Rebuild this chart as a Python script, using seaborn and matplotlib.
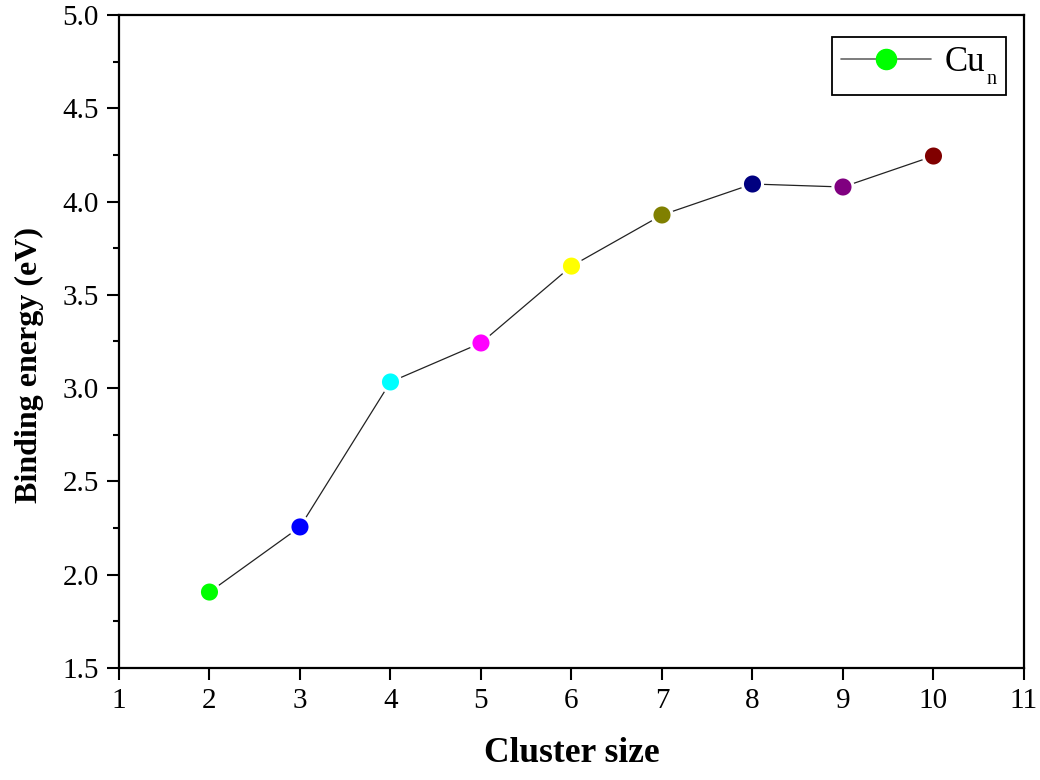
import matplotlib
matplotlib.use("Agg")
import matplotlib.pyplot as plt
import seaborn as sns
import pandas as pd
from matplotlib.lines import Line2D
from matplotlib.patches import Rectangle
from matplotlib.ticker import MultipleLocator, FormatStrFormatter

# Cu_n cluster binding energies
cluster_size = [2, 3, 4, 5, 6, 7, 8, 9, 10]
binding_energy = [1.907, 2.256, 3.033, 3.242, 3.654, 3.928, 4.094, 4.078, 4.244]
point_colors = ["#00FF00", "#0000FF", "#00FFFF", "#FF00FF", "#FFFF00",
                "#808000", "#000080", "#800080", "#800000"]
legend_main = "Cu"
legend_sub = "n"

sns.set_theme(style="ticks")
plt.rcParams["font.family"] = ["Liberation Serif", "DejaVu Serif"]
for key in ["text.color", "axes.labelcolor", "xtick.color", "ytick.color",
            "axes.edgecolor"]:
    plt.rcParams[key] = "black"

df = pd.DataFrame({"size": cluster_size, "energy": binding_energy,
                   "label": [str(s) for s in cluster_size]})

DPI = 100
fig = plt.figure(figsize=(10.4, 7.8), dpi=DPI)
ax = fig.add_axes([0.1144, 0.1436, 0.8702, 0.8372])

sns.lineplot(data=df, x="size", y="energy", ax=ax, color="#222222",
             linewidth=0.9, legend=False, zorder=2)
sns.scatterplot(data=df, x="size", y="energy", hue="label",
                palette=point_colors, s=210, edgecolor="white",
                linewidth=2.2, ax=ax, legend=False, zorder=3)

ax.set_xlim(1, 11)
ax.set_ylim(1.5, 5.0)
ax.xaxis.set_major_locator(MultipleLocator(1))
ax.yaxis.set_major_locator(MultipleLocator(0.5))
ax.yaxis.set_minor_locator(MultipleLocator(0.25))
ax.yaxis.set_major_formatter(FormatStrFormatter("%.1f"))

for side in ["left", "right", "top", "bottom"]:
    ax.spines[side].set_visible(True)
    ax.spines[side].set_linewidth(1.6)
    ax.spines[side].set_color("black")

ax.tick_params(axis="both", which="major", direction="out", length=8.5,
               width=1.5, labelsize=21, colors="black", pad=6)
ax.tick_params(axis="y", which="minor", direction="out", length=4.5, width=1.5)

ax.set_xlabel("Cluster size", fontsize=25.5, fontweight="bold", va="top")
ax.xaxis.set_label_coords(0.5, -0.106)
ax.set_ylabel("Binding energy (eV)", fontsize=23, fontweight="bold")
ax.yaxis.set_label_coords(-0.083, 0.464)

# Legend: "Cu" with a low, small subscript "n"; frame drawn around both
LEG_FS = 25
handle = Line2D([], [], color="#666666", linewidth=1.2, marker="o",
                markersize=14.5, markerfacecolor="#00FF00",
                markeredgecolor="#00FF00")
leg = ax.legend([handle], [legend_main], loc="upper left",
                bbox_to_anchor=(0.788, 0.966), fontsize=LEG_FS, frameon=False,
                handlelength=2.6, borderpad=0.25, handletextpad=0.4,
                borderaxespad=0)

fig.canvas.draw()
renderer = fig.canvas.get_renderer()
txt = leg.get_texts()[0]
bb = txt.get_window_extent(renderer)
_, _, descent = renderer.get_text_width_height_descent(
    "lp", txt.get_fontproperties(), ismath=False)
baseline = bb.y0 + descent
sub = fig.text((bb.x1 + 1) / fig.bbox.width,
               (baseline - 13) / fig.bbox.height, legend_sub,
               fontsize=14.5, ha="left", va="baseline", color="black")

lb = leg.get_window_extent(renderer)
nb = sub.get_window_extent(renderer)
x0, x1 = lb.x0, nb.x1 + 10
y0, y1 = min(lb.y0, nb.y0 - 6), lb.y1
frame = Rectangle((x0 / fig.bbox.width, y0 / fig.bbox.height),
                  (x1 - x0) / fig.bbox.width, (y1 - y0) / fig.bbox.height,
                  transform=fig.transFigure, fill=False, edgecolor="black",
                  linewidth=1.3, zorder=5)
fig.add_artist(frame)

fig.savefig("out.png", dpi=DPI, facecolor="white")
